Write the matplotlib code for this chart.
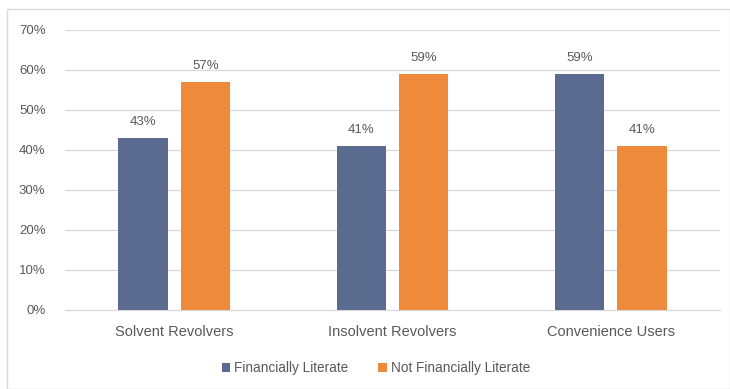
import matplotlib
matplotlib.use("Agg")
import matplotlib.pyplot as plt
from matplotlib.patches import Rectangle
import numpy as np

categories = ["Solvent Revolvers", "Insolvent Revolvers", "Convenience Users"]
literate = [43, 41, 59]
not_literate = [57, 59, 41]
series_names = ["Financially Literate", "Not Financially Literate"]
yticks = [0, 10, 20, 30, 40, 50, 60, 70]

blue = "#5a6b8f"
orange = "#ed8a3b"
text_col = "#595959"

plt.rcParams["font.family"] = ["Liberation Sans", "DejaVu Sans"]

W, H = 730, 389
fig = plt.figure(figsize=(W / 100, H / 100), dpi=100)

# light outer frame of the chart area
fig.patches.append(Rectangle((7 / W, 0), (W - 7) / W, (H - 9) / H,
                             transform=fig.transFigure, fill=False,
                             edgecolor="#d9d9d9", linewidth=1.0))

ax = fig.add_axes([65 / W, (H - 310) / H, (720 - 65) / W, 280 / H])

x = np.arange(len(categories))
bw = 0.225
gap = 0.06
off = (bw + gap) / 2
b1 = ax.bar(x - off, literate, bw, color=blue, label=series_names[0], zorder=3)
b2 = ax.bar(x + off, not_literate, bw, color=orange, label=series_names[1], zorder=3)

for bars, vals in ((b1, literate), (b2, not_literate)):
    for r, v in zip(bars, vals):
        ax.text(r.get_x() + r.get_width() / 2, v + 4.0, f"{v}%",
                ha="center", va="center", fontsize=9.5, color=text_col)

ax.set_xlim(-0.5, len(categories) - 0.5)
ax.set_ylim(0, 70)
ax.set_yticks(yticks)
ax.set_yticklabels([f"{t}%" for t in yticks])
ax.set_xticks(x)
ax.set_xticklabels(categories)
ax.tick_params(axis="both", length=0, colors=text_col)
ax.tick_params(axis="y", pad=14, labelsize=9.5)
ax.tick_params(axis="x", pad=11, labelsize=10.5)
ax.grid(axis="y", color="#d9d9d9", linewidth=0.9, zorder=0)
for s in ("top", "right", "left"):
    ax.spines[s].set_visible(False)
ax.spines["bottom"].set_color("#d9d9d9")

leg = fig.legend(loc="center", bbox_to_anchor=(376 / W, (H - 368) / H), ncol=2,
                 frameon=False, fontsize=9.8, handlelength=0.6, handleheight=0.6,
                 columnspacing=2.2, handletextpad=0.3)
for t in leg.get_texts():
    t.set_color(text_col)

fig.savefig("out.png", dpi=100)
